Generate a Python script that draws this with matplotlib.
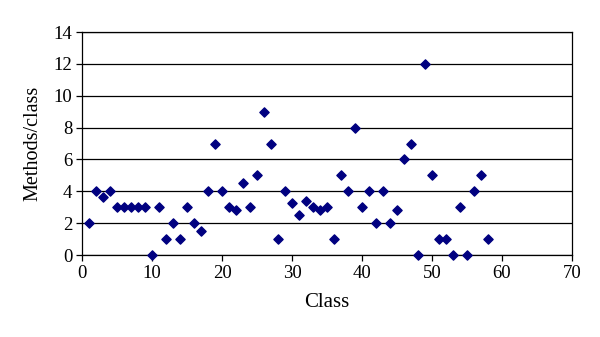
import matplotlib
matplotlib.use("Agg")
import matplotlib.pyplot as plt

# one value per class
classes = list(range(1, 59))
methods = [2, 4, 3.65, 4, 3, 3, 3, 3, 3, 0,
           3, 1, 2, 1, 3, 2, 1.5, 4, 7, 4,
           3, 2.8, 4.5, 3, 5, 9, 7, 1, 4, 3.25,
           2.5, 3.4, 3, 2.8, 3, 1, 5, 4, 8, 3,
           4, 2, 4, 2, 2.8, 6, 7, 0, 12, 5,
           1, 1, 0, 3, 0, 4, 5, 1]

plt.rcParams['font.family'] = ['Liberation Serif', 'DejaVu Serif']

fig = plt.figure(figsize=(6, 3.37), dpi=100)
ax = fig.add_axes([82 / 600, 1 - 255 / 337, 490 / 600, 223 / 337])

ax.scatter(classes, methods, marker='D', s=22, color='#000080', zorder=3,
           clip_on=False)

ax.set_xlim(0, 70)
ax.set_ylim(0, 14)
ax.set_xticks(range(0, 71, 10))
ax.set_yticks(range(0, 15, 2))
ax.yaxis.grid(True, color='black', linewidth=0.9)
ax.set_axisbelow(True)
for s in ax.spines.values():
    s.set_color('black')
    s.set_linewidth(0.9)
ax.tick_params(direction='out', length=4, width=0.9, labelsize=13.5, pad=3)

ax.set_xlabel('Class', fontsize=15, labelpad=8)
ax.set_ylabel('Methods/class', fontsize=14.5, labelpad=8)

fig.savefig('out.png', dpi=100)
